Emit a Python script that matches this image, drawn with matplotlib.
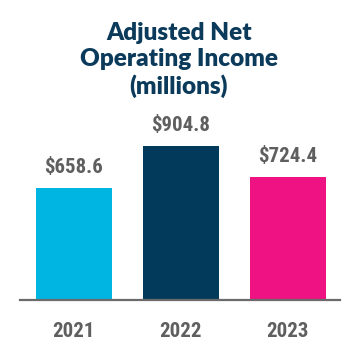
import matplotlib
matplotlib.use("Agg")
import matplotlib.pyplot as plt
from matplotlib import font_manager

years = ["2021", "2022", "2023"]
values = [658.6, 904.8, 724.4]
colors = ["#00b5e2", "#023a5c", "#ee1282"]

names = {f.name for f in font_manager.fontManager.ttflist}
lab_family = [n for n in ["Liberation Sans Narrow", "Roboto Condensed", "Archivo Narrow",
                          "PT Sans Narrow", "Asap Condensed"] if n in names] + ["DejaVu Sans"]
lab_family = lab_family[:1] + ["DejaVu Sans"]

fig = plt.figure(figsize=(3.6, 3.6), dpi=100)
ax = fig.add_axes([20/360, 60/360, 320/360, 170/360])
x = list(range(len(years)))
ax.bar(x, values, width=0.71, color=colors, zorder=2)
ax.set_xlim(-0.5, 2.49)
ax.set_ylim(0, 1000)
for s in ["top", "right", "left"]:
    ax.spines[s].set_visible(False)
ax.spines["bottom"].set_color("#6b6b6b")
ax.spines["bottom"].set_linewidth(1.6)
ax.set_yticks([])
ax.set_xticks(x)
ax.set_xticklabels(years)
for t in ax.get_xticklabels():
    t.set_fontsize(15)
    t.set_fontweight("bold")
    t.set_color("#5f5f5f")
    t.set_family(lab_family)
ax.tick_params(axis="x", length=0, pad=15.5)
for xi, v in zip(x, values):
    ax.annotate(f"${v:.1f}", (xi, v), xytext=(0, 8), textcoords="offset points",
                ha="center", va="bottom", fontsize=15, fontweight="bold",
                color="#5f5f5f", family=lab_family)

fig.text(179/360, 1 - 60/360, "Adjusted Net\nOperating Income\n(millions)",
         ha="center", va="center", fontsize=17.5, fontweight="heavy", color="#0b3a5b",
         family=["Lato", "DejaVu Sans"], linespacing=1.2)

fig.savefig("out.png", dpi=100, facecolor="white")
